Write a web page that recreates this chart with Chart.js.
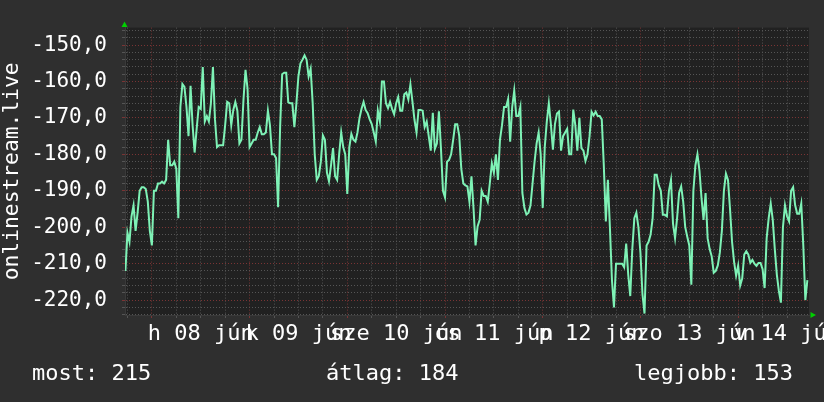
<!DOCTYPE html>
<html>
<head>
<meta charset="utf-8">
<script src="https://cdn.jsdelivr.net/npm/chart.js@4/dist/chart.umd.min.js"></script>
<style>
  html, body { margin:0; padding:0; background:#2f2f2f; }
  #wrap { position:relative; width:824px; height:402px; overflow:hidden; }
  #chart { position:absolute; left:0; top:0; }
  .stat { position:absolute; top:362px; font:22px "DejaVu Sans Mono", monospace; line-height:22px; color:#fff; white-space:pre; }
</style>
</head>
<body>
<div id="wrap">
  <canvas id="chart" width="824" height="402"></canvas>
  <div class="stat" id="s0"></div>
  <div class="stat" id="s1"></div>
  <div class="stat" id="s2"></div>
</div>
<script>
// ==== データ ====
// 07 jún 00:00 からの時間（h）、30分ごと
const T_MIN = 17.4;
const T_MAX = 185.4;
const T_FIRST = 17.5;
const STEP_H = 0.5;

const rankValues = [
  -212, -201.5, -204, -197, -194, -201, -196, -190, -189, -189,
  -189.5, -193, -201, -205, -190, -190, -188, -188, -187.5, -188,
  -187, -176, -183, -183, -182, -184, -197.5, -167, -160.7, -161.5,
  -167, -175, -161.2, -172, -179.5, -173, -167, -167.5, -156, -171,
  -169.5, -171, -166, -156, -170.4, -178, -177.5, -177.5, -177.5, -172,
  -165.6, -166, -172, -167.8, -165.6, -168, -177, -176, -165, -156.8,
  -162, -178, -177, -176, -176, -174, -172.5, -174.5, -174.5, -174,
  -168, -172, -180, -180, -181, -194.5, -172.5, -158, -157.6, -157.6,
  -165.7, -166, -166, -172.5, -166, -158.5, -155, -154, -152.8, -154,
  -158.6, -156.5, -166, -180, -187, -186, -182, -174.8, -176, -185,
  -187.4, -183, -178.3, -186, -187, -180, -174, -178, -180, -190.9,
  -178, -174.4, -176, -176.5, -174, -170, -167.5, -165.6, -167.8, -168.7,
  -170.4, -171.7, -174, -176.5, -168, -171, -160, -160, -166, -167.3,
  -165.6, -167.5, -169, -166, -164.3, -168, -168, -163.5, -163, -164.9,
  -160.8, -165.5, -170.5, -174, -167.8, -167.8, -168, -172.5, -171, -175,
  -179, -168.6, -178.5, -177, -168.2, -178.3, -190, -191.8, -182, -181.5,
  -180, -176, -171.7, -171.7, -175, -184, -188, -188.5, -188.8, -193,
  -186, -194.8, -205, -199.8, -198, -190, -191.4, -191.4, -193, -188,
  -182.5, -185, -180, -187, -176, -172, -167, -167, -164.8, -176.5,
  -167, -162.5, -169.5, -169.5, -167, -190.6, -194.7, -196.5, -196, -194,
  -188, -182, -177, -174, -180, -194.7, -178, -171, -166, -171.7,
  -178.7, -171.7, -168.8, -168.3, -179, -175, -174, -173, -180, -180,
  -167.7, -172, -179, -170, -178.3, -179, -181.8, -180, -175, -168.3,
  -169.3, -168.3, -169.5, -169.5, -170.4, -183, -198.4, -187, -200, -214.5,
  -222, -210, -210, -210, -210, -211, -204.5, -213, -218.9, -206,
  -197.5, -196, -200, -207, -218.4, -223.7, -205, -204, -202, -197.5,
  -185.6, -185.6, -188.5, -190, -196.6, -196.6, -197, -190, -187, -199,
  -203, -197.5, -190.5, -188.8, -193, -200, -202.6, -205, -215.8, -190,
  -183, -180, -184.5, -192, -198, -190.6, -203, -206, -208, -212.5,
  -212, -210.5, -207, -201, -190, -185.3, -187, -195, -204, -209.5,
  -213.3, -210.5, -216, -214, -207.5, -206.6, -207.5, -209.8, -209, -210,
  -210.6, -209.8, -209.8, -211.5, -216.7, -203, -197.5, -193.5, -198, -206,
  -213, -217.5, -220.7, -200, -194, -197, -198.4, -190, -189, -194,
  -196.3, -196.3, -193.5, -205, -220, -214.5
];

const dayLabels = ['h 08 jún', 'k 09 jún', 'sze 10 jún', 'cs 11 jún', 'p 12 jún', 'szo 13 jún', 'v 14 jún'];
const Y_MIN = -224.1;
const Y_MAX = -145.2;
const statNames  = ['most', 'átlag', 'legjobb'];
const statValues = [215, 184, 153];

/* ===== 見た目 ===== */
const FONT = '"DejaVu Sans Mono", monospace';
const BG_PLOT = '#212121';
const LINE_COLOR = '#7ef2b6';
const GRID_MINOR = '#555555';
const GRID_MAJOR = '#7a3434';
const ARROW = '#00d000';

// 凡例（下の統計）
const statLeft = [32, 326, 634];
statNames.forEach((n, i) => {
  const el = document.getElementById('s' + i);
  el.textContent = `${n}: ${statValues[i]}`;
  el.style.left = statLeft[i] + 'px';
});

const points = rankValues.map((v, i) => ({ x: T_FIRST + i * STEP_H, y: v }));

const plotBg = {
  id: 'plotBg',
  beforeDraw(c) {
    const { ctx, chartArea: a } = c;
    ctx.save();
    ctx.fillStyle = BG_PLOT;
    ctx.fillRect(a.left, a.top, a.right - a.left, a.bottom - a.top);
    ctx.restore();
  }
};

// 軸の矢印
const arrows = {
  id: 'arrows',
  afterDraw(c) {
    const { ctx, chartArea: a } = c;
    ctx.save();
    ctx.fillStyle = ARROW;
    ctx.beginPath();
    ctx.moveTo(a.left - 3.5, a.top - 0.5);
    ctx.lineTo(a.left + 2.5, a.top - 0.5);
    ctx.lineTo(a.left - 0.5, a.top - 6);
    ctx.closePath(); ctx.fill();
    ctx.beginPath();
    ctx.moveTo(a.right + 1.5, a.bottom - 3);
    ctx.lineTo(a.right + 1.5, a.bottom + 3);
    ctx.lineTo(a.right + 7, a.bottom);
    ctx.closePath(); ctx.fill();
    ctx.restore();
  }
};

new Chart(document.getElementById('chart'), {
  type: 'line',
  data: {
    datasets: [{
      data: points,
      borderColor: LINE_COLOR,
      borderWidth: 2,
      pointRadius: 0,
      tension: 0,
      fill: false
    }]
  },
  options: {
    responsive: false,
    animation: false,
    layout: { padding: { left: 0, top: 14, right: 15, bottom: 47 } },
    plugins: { legend: { display: false }, tooltip: { enabled: false } },
    scales: {
      x: {
        type: 'linear',
        min: T_MIN,
        max: T_MAX,
        afterBuildTicks(s) {
          const t = [];
          for (let v = 18; v <= 180; v += 6) t.push({ value: v });
          t.push({ value: T_MAX });
          s.ticks = t;
        },
        afterFit(s) { s.height = 40; },
        grid: {
          color: (ctx) => {
            const v = ctx.tick ? ctx.tick.value : 0;
            if (v === T_MAX) return 'rgba(0,0,0,0)';
            return v % 24 === 0 ? GRID_MAJOR : GRID_MINOR;
          },
          lineWidth: 1,
          drawTicks: true,
          tickLength: 3,
          borderDash: [1, 2]
        },
        border: { display: true, color: '#3a3a3a', width: 1, dash: [1, 2] },
        ticks: {
          autoSkip: false,
          maxRotation: 0,
          minRotation: 0,
          padding: 3,
          color: '#ffffff',
          font: { family: FONT, size: 22 },
          callback: (v) => ((v - 12) % 24 === 0 ? dayLabels[(v - 36) / 24] || '' : '')
        }
      },
      y: {
        type: 'linear',
        min: Y_MIN,
        max: Y_MAX,
        afterBuildTicks(s) {
          const t = [];
          for (let v = -224; v <= -146; v += 2) t.push({ value: v });
          s.ticks = t;
        },
        afterFit(s) { s.width = 125; },
        grid: {
          color: (ctx) => (ctx.tick && ctx.tick.value % 10 === 0 ? GRID_MAJOR : GRID_MINOR),
          lineWidth: 1,
          drawTicks: true,
          tickLength: 3,
          borderDash: [1, 2]
        },
        border: { display: true, color: '#3a3a3a', width: 1, dash: [1, 2] },
        ticks: {
          autoSkip: false,
          padding: 15,
          color: '#ffffff',
          font: { family: FONT, size: 21 },
          callback: (v) => (v % 10 === 0 ? v.toFixed(1).replace('.', ',') : '')
        },
        title: {
          display: true,
          text: 'onlinestream.live',
          color: '#ffffff',
          font: { family: FONT, size: 21.3 },
          padding: 0
        }
      }
    }
  },
  plugins: [plotBg, arrows]
});
</script>
</body>
</html>
